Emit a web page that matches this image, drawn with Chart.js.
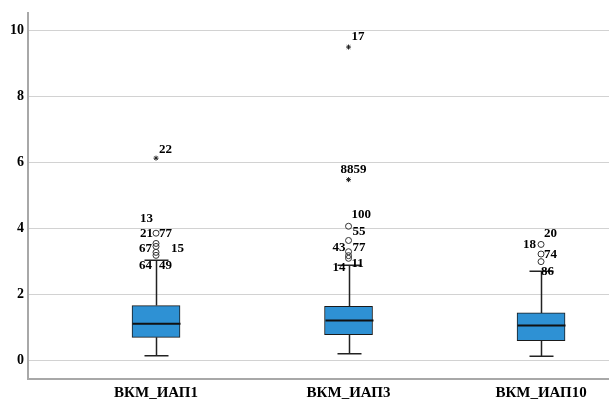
<!DOCTYPE html>
<html>
<head>
<meta charset="utf-8">
<script src="https://cdn.jsdelivr.net/npm/chart.js@4.4.1/dist/chart.umd.min.js"></script>
<style>
  body { margin: 0; background: #fff; }
</style>
</head>
<body>
<canvas id="box-chart" width="609" height="399"></canvas>
<script>
const categories = ["ВКМ_ИАП1", "ВКМ_ИАП3", "ВКМ_ИАП10"];
const whiskerLow = [0.15, 0.21, 0.14];
const quart1 = [0.71, 0.79, 0.61];
const medians = [1.12, 1.22, 1.07];
const quart3 = [1.67, 1.65, 1.45];
const whiskerHigh = [3.04, 2.89, 2.71];
const outliers = [[3.86, 3.55, 3.46, 3.28, 3.19], [4.07, 3.64, 3.30, 3.18, 3.10], [3.52, 3.23, 3.00]];
const extremes = [[6.13], [9.49, 5.48], []];
const yTicks = [0, 2, 4, 6, 8, 10];

// case labels: [category, value of the marked point, case number]
const caseLabels = [
  [0, 6.13, "22"], [0, 3.86, "13"], [0, 3.86, "21"], [0, 3.86, "77"],
  [0, 3.46, "67"], [0, 3.46, "15"], [0, 3.19, "64"], [0, 3.19, "49"],
  [1, 9.49, "17"], [1, 5.48, "88"], [1, 5.48, "59"], [1, 4.07, "100"], [1, 4.07, "55"],
  [1, 3.64, "43"], [1, 3.64, "77"], [1, 3.10, "14"], [1, 3.10, "11"],
  [2, 3.52, "20"], [2, 3.52, "18"], [2, 3.23, "74"], [2, 3.00, "86"]
];

// where each label sits next to its point: [dx, dy, align]
const labelPlace = [
  [3, -9, "left"], [-3, -15, "right"], [-3, 0, "right"], [3, 0, "left"],
  [-4, 2, "right"], [15, 2, "left"], [-4, 10, "right"], [3, 10, "left"],
  [3, -10, "left"], [5, -10, "right"], [5, -10, "left"], [3, -12, "left"], [4, 5, "left"],
  [-3, 7, "right"], [4, 7, "left"], [-3, 9, "right"], [3, 5, "left"],
  [3, -11, "left"], [-5, 0, "right"], [3, 1, "left"], [0, 10, "left"]
];

var boxData = [];
var outData = [];
var extData = [];
for (var i = 0; i < categories.length; i++) {
  boxData.push({ x: i, y: [quart1[i], quart3[i]] });
  outliers[i].forEach(function (v) { outData.push({ x: i, y: v }); });
  extremes[i].forEach(function (v) { extData.push({ x: i, y: v }); });
}

// medians, whiskers and case numbers
const boxExtras = {
  id: "boxExtras",
  afterDatasetsDraw(chart) {
    const ctx = chart.ctx;
    const xs = chart.scales.x;
    const ys = chart.scales.y;
    const half = 24;
    ctx.save();
    for (var i = 0; i < categories.length; i++) {
      var cx = Math.round(xs.getPixelForValue(i)) + 0.5;
      ctx.strokeStyle = "#222";
      ctx.lineWidth = 1.5;
      ctx.beginPath();
      ctx.moveTo(cx, ys.getPixelForValue(quart3[i]));
      ctx.lineTo(cx, ys.getPixelForValue(whiskerHigh[i]));
      ctx.moveTo(cx, ys.getPixelForValue(quart1[i]));
      ctx.lineTo(cx, ys.getPixelForValue(whiskerLow[i]));
      ctx.stroke();
      ctx.beginPath();
      ctx.moveTo(cx - half / 2, ys.getPixelForValue(whiskerHigh[i]));
      ctx.lineTo(cx + half / 2, ys.getPixelForValue(whiskerHigh[i]));
      ctx.moveTo(cx - half / 2, ys.getPixelForValue(whiskerLow[i]));
      ctx.lineTo(cx + half / 2, ys.getPixelForValue(whiskerLow[i]));
      ctx.stroke();
      ctx.strokeStyle = "#111";
      ctx.lineWidth = 2;
      ctx.beginPath();
      ctx.moveTo(cx - half, ys.getPixelForValue(medians[i]));
      ctx.lineTo(cx + half, ys.getPixelForValue(medians[i]));
      ctx.stroke();
    }
    ctx.fillStyle = "#000";
    ctx.font = "bold 13px 'Liberation Serif'";
    ctx.textBaseline = "middle";
    caseLabels.forEach(function (lab, k) {
      var p = labelPlace[k];
      ctx.textAlign = p[2];
      ctx.fillText(lab[2], xs.getPixelForValue(lab[0]) + p[0], ys.getPixelForValue(lab[1]) + p[1]);
    });
    ctx.restore();
  }
};

new Chart(document.getElementById("box-chart"), {
  type: "bar",
  data: {
    datasets: [
      {
        data: boxData,
        backgroundColor: "#2E91D4",
        borderColor: "#1a1a1a",
        borderWidth: 1,
        borderSkipped: false,
        barThickness: 48
      },
      {
        type: "scatter",
        data: outData,
        pointStyle: "circle",
        pointRadius: 3,
        backgroundColor: "rgba(255,255,255,0)",
        borderColor: "#333",
        borderWidth: 1
      },
      {
        type: "scatter",
        data: extData,
        pointStyle: "star",
        pointRadius: 2.5,
        borderColor: "#222",
        borderWidth: 1
      }
    ]
  },
  options: {
    responsive: false,
    animation: false,
    layout: { autoPadding: false, padding: { top: 13, right: 0, left: 0, bottom: 0 } },
    plugins: {
      legend: { display: false },
      tooltip: { enabled: false }
    },
    scales: {
      x: {
        type: "linear",
        offset: false,
        min: -0.665,
        max: 2.353,
        afterBuildTicks: function (axis) {
          axis.ticks = categories.map(function (c, i) { return { value: i }; });
        },
        afterFit: function (axis) { axis.height = 20; },
        grid: { display: false, drawTicks: false },
        border: { color: "#a8a8a8", width: 2 },
        ticks: {
          padding: 5,
          color: "#000",
          font: { family: "'Liberation Serif'", size: 15, weight: "bold" },
          callback: function (v) { return categories[v]; }
        }
      },
      y: {
        min: -0.55,
        max: 10.52,
        afterBuildTicks: function (axis) {
          axis.ticks = yTicks.map(function (v) { return { value: v }; });
        },
        afterFit: function (axis) { axis.width = 28; },
        grid: { color: "#d2d2d2", lineWidth: 1, drawTicks: false },
        border: { color: "#a8a8a8", width: 2 },
        ticks: {
          padding: 4,
          color: "#000",
          font: { family: "'Liberation Serif'", size: 14, weight: "bold" }
        }
      }
    }
  },
  plugins: [boxExtras]
});
</script>
</body>
</html>
